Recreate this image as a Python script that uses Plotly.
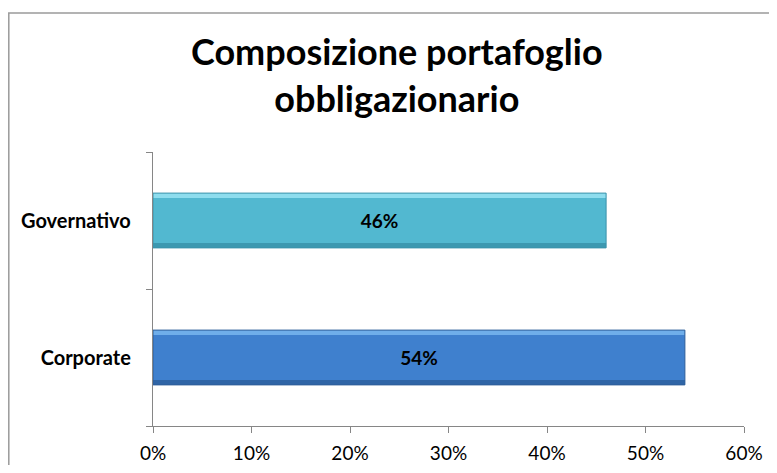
import plotly.graph_objects as go

# dati
categorie = ["Corporate", "Governativo"]
quote = [0.54, 0.46]
etichette = ["54%", "46%"]
colori = ["#3F80CE", "#52B8D0"]
luci = ["#6FAEEA", "#8EDDEE"]
ombre = ["#2F65A6", "#3C98B0"]
bordi = ["#2E5F99", "#3B93AA"]

titolo = "Composizione portafoglio<br>obbligazionario"

# la pagina ha 8px di margine nel body: la figura parte da (8, 8)
# (dimensioni ridotte per non far comparire le barre di scorrimento)
OFF = 8
W, H = 777 - 2 * OFF, 473 - 2 * OFF
ML, MT = 153 - OFF, 152 - OFF
pw, ph = 591, 274
MR = W - ML - pw
MB = H - MT - ph


def px_x(p):
    return (p - OFF - ML) / pw


def px_y(p):
    return (MT + ph - (p - OFF)) / ph


fig = go.Figure()
# barra principale
fig.add_trace(go.Bar(
    y=categorie, x=quote, orientation="h",
    width=0.4, offset=-0.2,
    marker=dict(color=colori, line=dict(width=0)),
    hoverinfo="skip",
))
# effetto rilievo: striscia chiara in alto e scura in basso
fig.add_trace(go.Bar(
    y=categorie, x=quote, orientation="h",
    width=0.035, offset=0.165,
    marker=dict(color=luci, line=dict(width=0)),
    hoverinfo="skip",
))
fig.add_trace(go.Bar(
    y=categorie, x=quote, orientation="h",
    width=0.035, offset=-0.2,
    marker=dict(color=ombre, line=dict(width=0)),
    hoverinfo="skip",
))
# contorno + etichette
fig.add_trace(go.Bar(
    y=categorie, x=quote, orientation="h",
    width=0.4, offset=-0.2,
    marker=dict(color="rgba(0,0,0,0)", line=dict(color=bordi, width=1)),
    text=etichette,
    textposition="inside",
    insidetextanchor="middle",
    textfont=dict(family="Lato", size=19, color="black", weight="bold"),
    hoverinfo="skip",
))

axis_grey = "#868686"
fig.update_xaxes(
    range=[0, 0.6], dtick=0.1, tickformat=".0%",
    showgrid=False, zeroline=False, automargin=False,
    showline=True, linecolor=axis_grey, linewidth=1.3,
    ticks="outside", ticklen=6, tickcolor=axis_grey, tickwidth=1.3,
    ticklabelstandoff=4,
    tickfont=dict(family="Lato", size=19, color="black"),
)
fig.update_yaxes(
    showgrid=False, zeroline=False, automargin=False,
    showline=True, linecolor=axis_grey, linewidth=1.3,
    ticks="outside", ticklen=6, tickcolor=axis_grey, tickwidth=1.3,
    tickson="boundaries",
    ticklabelstandoff=17,
    tickfont=dict(family="Lato", size=20, color="black", weight="bold"),
)

# cornice del grafico: solo lati sinistro e superiore sono visibili
xl, yb, xr, yt = px_x(8.8), px_y(490), px_x(800), px_y(13)
fig.add_shape(type="path", xref="paper", yref="paper",
              path=f"M {xl},{yb} L {xl},{yt} L {xr},{yt}",
              line=dict(color="#9a9a9a", width=1.5), layer="below")

fig.add_annotation(
    text=titolo, xref="paper", yref="paper",
    x=px_x(397), y=px_y(75), xanchor="center", yanchor="middle",
    showarrow=False,
    font=dict(family="Lato", size=36, color="black", weight="bold"),
)

fig.update_layout(
    width=W, height=H,
    margin=dict(l=ML, r=MR, t=MT, b=MB),
    paper_bgcolor="white", plot_bgcolor="white",
    showlegend=False,
    barmode="overlay",
)

fig.write_html("out.html")
